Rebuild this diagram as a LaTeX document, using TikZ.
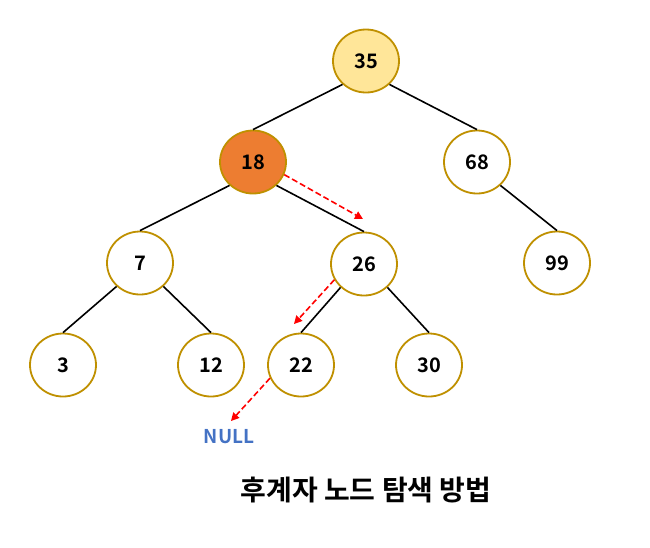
\documentclass[tikz,border=0pt]{standalone}
\usepackage{fontspec}
\setmainfont{Noto Sans CJK KR}[BoldFont={* Bold}]
\newfontfamily\kr{Noto Sans CJK KR Bold}
\usetikzlibrary{shapes.geometric,arrows.meta}
\definecolor{gold}{HTML}{BF9000}
\definecolor{lightgold}{HTML}{FFE699}
\definecolor{orng}{HTML}{ED7D31}
\definecolor{nullblue}{HTML}{4472C4}
\tikzset{
  tn/.style={ellipse, draw=gold, line width=1.8pt, fill=white, minimum width=66pt, minimum height=63pt, inner sep=0pt, font=\kr\fontsize{20}{24}\selectfont},
  edge/.style={line width=1.6pt, black},
  redarrow/.style={red, line width=1.6pt, dash pattern=on 6pt off 3pt, -{Triangle[length=8pt,width=8pt]}},
}
\begin{document}
\begin{tikzpicture}[x=1pt,y=-1pt]
\useasboundingbox (0,0) rectangle (650,547);
\node[tn, fill=lightgold] (n35) at (366,61) {35};
\node[tn, fill=orng] (n18) at (253,162) {18};
\node[tn] (n68) at (477,162) {68};
\node[tn] (n7) at (140,263) {7};
\node[tn] (n26) at (364,264) {26};
\node[tn] (n99) at (557,263) {99};
\node[tn] (n3) at (63,365) {3};
\node[tn] (n12) at (211,365) {12};
\node[tn] (n22) at (301,365) {22};
\node[tn] (n30) at (429,365) {30};
\node[font=\kr\fontsize{19}{22}\selectfont, text=nullblue] (null) at (229,437) {NULL};
\node[font=\kr\fontsize{28}{32}\selectfont] (title) at (366,490) {후계자 노드 탐색 방법};
\draw[edge] (n35.-135) -- (n18.north);
\draw[edge] (n35.-45) -- (n68.north);
\draw[edge] (n18.-135) -- (n7.north);
\draw[edge] (n18.-45) -- (n26.north);
\draw[edge] (n68.-45) -- (n99.north);
\draw[edge] (n7.-135) -- (n3.north);
\draw[edge] (n7.-45) -- (n12.north);
\draw[edge] (n26.-135) -- (n22.north);
\draw[edge] (n26.-45) -- (n30.north);
\coordinate (a1) at (363,219);
\coordinate (a2) at (294,324);
\coordinate (a3) at (231,421);
\draw[redarrow] (n18.-22) -- (a1);
\draw[redarrow] (n26.-152) -- (a2);
\draw[redarrow] (n22.-157) -- (a3);
\end{tikzpicture}
\end{document}
